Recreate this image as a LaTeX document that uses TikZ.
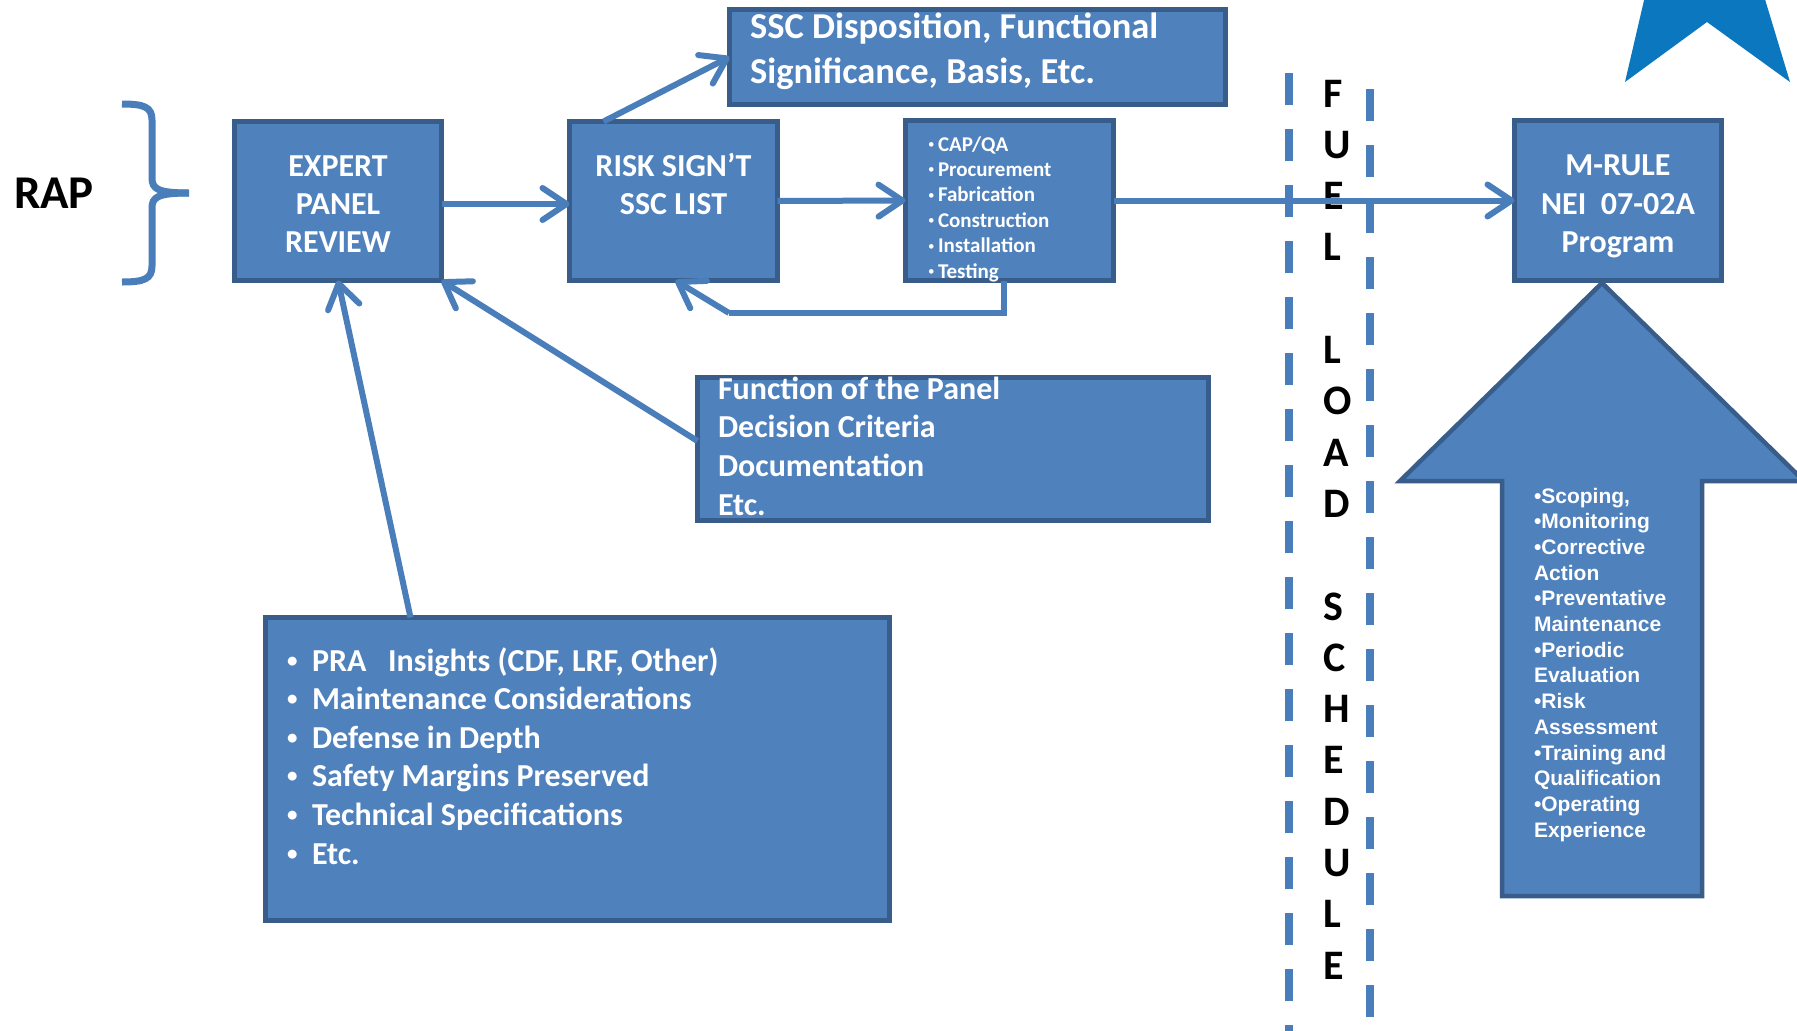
\documentclass[tikz,border=0pt]{standalone}
\usepackage{fontspec}
\setmainfont{Carlito}
\newfontfamily\arialfont{Liberation Sans}
\usetikzlibrary{arrows.meta}
\definecolor{boxfill}{HTML}{4F81BD}
\definecolor{boxline}{HTML}{385D8A}
\definecolor{linkblue}{HTML}{4A7EBB}
\definecolor{starblue}{HTML}{0A77BF}
% small bullet dots for the lists
\newcommand{\listdot}[1]{\raisebox{#1}{\fontsize{21}{21}\selectfont•}}

\begin{document}
\begin{tikzpicture}[x=1pt,y=-1pt,
  box/.style={draw=boxline, fill=boxfill, line width=5pt, inner sep=0pt, outer sep=0pt},
  lbl/.style={text=white, inner sep=0pt, outer sep=0pt, font=\bfseries\fontsize{32}{38.5}\selectfont},
  biglbl/.style={lbl, font=\bfseries\fontsize{36.5}{44.5}\selectfont},
  smalllbl/.style={lbl, font=\bfseries\fontsize{21}{25.4}\selectfont},
  arrowlbl/.style={lbl, font=\arialfont\bfseries\fontsize{21}{25.7}\selectfont},
  blacklbl/.style={text=black, inner sep=0pt, outer sep=0pt},
  conn/.style={draw=linkblue, line width=6pt, -{Straight Barb[length=24pt,width=32pt,round]}},
  fuelline/.style={draw=linkblue, line width=7.5pt, dash pattern=on 32pt off 24pt},
  bracket/.style={draw=linkblue, line width=7pt, line cap=butt}
]
\useasboundingbox[fill=white] (0,0) rectangle (1797,1031);

% corner star point
\fill[starblue] (1625,82) -- (1645,-4) -- (1764,-4) -- (1790,82) -- (1707,22) -- cycle;

% RAP label and its brace
\node[blacklbl, anchor=base west, font=\bfseries\fontsize{47}{56}\selectfont] (rap) at (14,208) {RAP};
\draw[bracket] (122,104) .. controls (144,104) and (152,107) .. (152,120) -- (152,178)
   .. controls (152,189) and (158,193) .. (189,193);
\draw[bracket] (189,193) .. controls (158,193) and (152,197) .. (152,208) -- (152,266)
   .. controls (152,279) and (144,282) .. (122,282);

% boxes
\node[box, minimum width=207pt, minimum height=159pt] (expert) at (338,201) {};
\node[box, minimum width=208pt, minimum height=159pt] (risk) at (673.5,201) {};
\node[box, minimum width=208pt, minimum height=160pt] (cap) at (1009.5,200.5) {};
\node[box, minimum width=207pt, minimum height=160pt] (mrule) at (1618,200.5) {};
\node[box, minimum width=496pt, minimum height=95pt] (ssc) at (977.5,57) {};
\node[box, minimum width=511pt, minimum height=143pt] (func) at (953,449) {};
\node[box, minimum width=624pt, minimum height=303pt] (list) at (577.5,769) {};

% box texts
\node[lbl, anchor=base] (expert1) at (338,176) {EXPERT};
\node[lbl, anchor=base] (expert2) at (338,214) {PANEL};
\node[lbl, anchor=base] (expert3) at (338,252) {REVIEW};
\node[lbl, anchor=base] (risk1) at (673.5,176) {RISK SIGN’T};
\node[lbl, anchor=base] (risk2) at (673.5,214) {SSC LIST};
\node[lbl, anchor=base] (mrule1) at (1618,175) {M-RULE};
\node[lbl, anchor=base] (mrule2) at (1618,214) {NEI\ \ 07-02A};
\node[lbl, anchor=base] (mrule3) at (1618,252) {Program};
\node[biglbl, anchor=base west] (ssc1) at (750,38) {SSC Disposition, Functional};
\node[biglbl, anchor=base west] (ssc2) at (750,83) {Significance, Basis, Etc.};

\foreach \t [count=\i from 0] in {CAP/QA,Procurement,Fabrication,Construction,Installation,Testing} {
  \node[smalllbl, anchor=base west, font=\fontsize{13}{13}\selectfont] (capdot\i) at (928,{151+25.4*\i}) {\raisebox{2.5pt}{•}};
  \node[smalllbl, anchor=base west] (capitem\i) at (938,{151+25.4*\i}) {\t};
}

\foreach \t [count=\i from 0] in {Function of the Panel,Decision Criteria,Documentation,Etc.} {
  \node[lbl, anchor=base west] (func\i) at (718,{399+38.7*\i}) {\t};
}

\foreach \t [count=\i from 0] in {{PRA\ \ \ Insights (CDF, LRF, Other)},Maintenance Considerations,
    Defense in Depth,Safety Margins Preserved,Technical Specifications,Etc.} {
  \node[lbl, anchor=base west] (listdot\i) at (287,{671+38.6*\i}) {\listdot{4pt}};
  \node[lbl, anchor=base west] (listitem\i) at (312,{671+38.6*\i}) {\t};
}

% fuel load schedule band
\coordinate (bandLtop) at (1289,73);
\coordinate (bandLbot) at (1289,1031);
\coordinate (bandRtop) at (1370,89);
\coordinate (bandRbot) at (1370,1031);
\draw[fuelline] (bandLtop) -- (bandLbot);
\draw[fuelline] (bandRtop) -- (bandRbot);
\foreach \c/\k in {F/0,U/1,E/2,L/3,L/5,O/6,A/7,D/8,S/10,C/11,H/12,E/13,D/14,U/15,L/16,E/17} {
  \node[blacklbl, anchor=base west, font=\bfseries\fontsize{42}{51}\selectfont] (fuel\k) at (1323,{107+51.3*\k}) {\c};
}

% connectors
\draw[conn] ([yshift=-3pt]expert.east) -- ([yshift=-3pt]risk.west);
\draw[conn] (risk.east) -- (cap.west);
\draw[conn] (cap.east) -- (mrule.west);
\draw[conn] ([xshift=-70pt]risk.north) -- (ssc.west);
\coordinate (fbk) at (729,313);
\draw[draw=linkblue, line width=6pt] ([xshift=-6pt]cap.south) |- (fbk);
\draw[conn] (fbk) -- ([xshift=2pt]risk.south);
\draw[conn] ([yshift=8pt]func.west) -- (expert.south east);
\draw[conn] ([xshift=-167pt]list.north) -- (expert.south);

% up arrow into the program box
\draw[draw=boxline, fill=boxfill, line width=4.5pt] (1502,896) -- (1502,481) -- (1400,481)
   -- (1602,283) -- (1804,481) -- (1702,481) -- (1702,896) -- cycle;
\foreach \t [count=\i from 0] in {{•Scoping,},•Monitoring,•Corrective,Action,•Preventative,Maintenance,
    •Periodic,Evaluation,•Risk,Assessment,•Training and,Qualification,•Operating,Experience} {
  \node[arrowlbl, anchor=base west] (prog\i) at (1534,{503+25.7*\i}) {\t};
}
\end{tikzpicture}
\end{document}
